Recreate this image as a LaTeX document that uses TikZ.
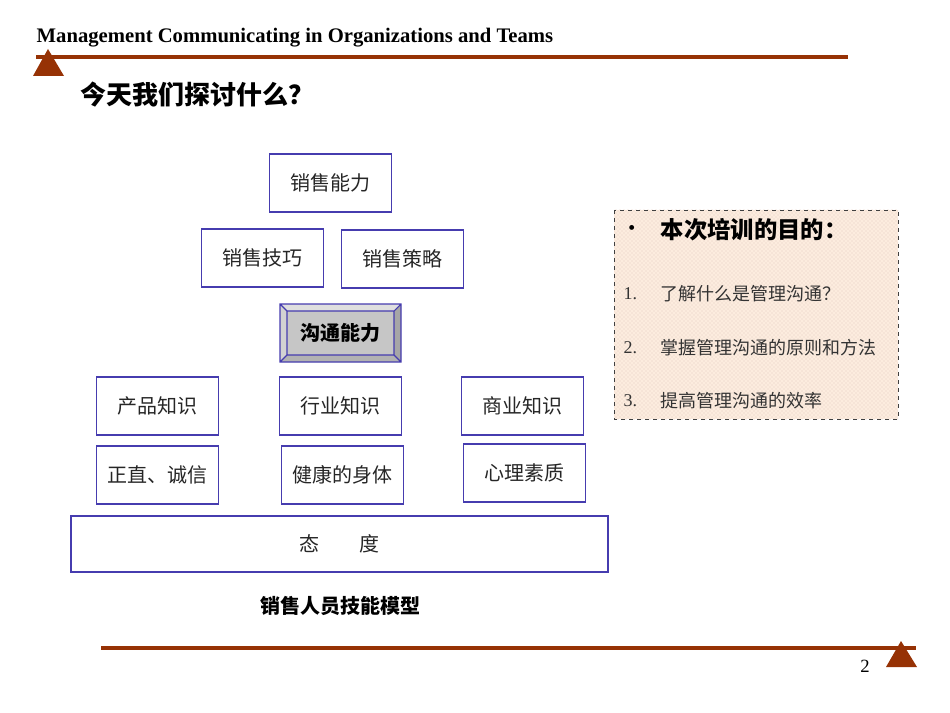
\documentclass[tikz,border=0pt]{standalone}
\usepackage{fontspec}
\setmainfont{Liberation Serif}
\newfontfamily\cjk{Noto Sans CJK SC}
\usetikzlibrary{patterns}
\definecolor{brn}{RGB}{150,50,5}
\definecolor{bbl}{RGB}{70,60,175}
\definecolor{peach}{RGB}{252,236,222}
\begin{document}
\begin{tikzpicture}[x=0.75pt,y=-0.75pt,
  bx/.style={draw=bbl,line width=0.9pt,minimum width=91pt,minimum height=43.5pt,inner sep=0pt,font=\cjk\fontsize{15}{15}\selectfont,text=black!85},
  itm/.style={anchor=west,font=\cjk\fontsize{13.5}{14}\selectfont,text=black!80}]
\useasboundingbox (0,0) rectangle (950,713);
\node[anchor=west,font=\bfseries\fontsize{15.5}{16}\selectfont] (hdr) at (32,38) {Management Communicating in Organizations and Teams};
\draw[brn,line width=3pt] (36,57) -- (848,57);
\fill[brn] (48,49) -- (33,76) -- (64,76) -- cycle;
\node[anchor=west,font=\cjk\bfseries\fontsize{19.5}{20}\selectfont] (ttl) at (76,95) {今天我们探讨什么？};
\node[bx] (a) at (330.5,183) {销售能力};
\node[bx] (b) at (262.5,258) {销售技巧};
\node[bx] (c) at (402.5,259) {销售策略};
% bevel box
\fill[gray!55] (280,304) rectangle (401,362);
\fill[gray!25] (280,304) -- (401,304) -- (394,311) -- (287,311) -- cycle;
\fill[gray!35] (280,304) -- (287,311) -- (287,355) -- (280,362) -- cycle;
\fill[gray!70] (401,304) -- (394,311) -- (394,355) -- (401,362) -- cycle;
\fill[gray!60] (280,362) -- (287,355) -- (394,355) -- (401,362) -- cycle;
\fill[gray!45] (287,311) rectangle (394,355);
\draw[bbl,line width=0.8pt] (280,304) rectangle (401,362) (287,311) rectangle (394,355)
  (280,304)--(287,311) (401,304)--(394,311) (280,362)--(287,355) (401,362)--(394,355);
\node[font=\cjk\bfseries\fontsize{15}{15}\selectfont] (d) at (340.5,333) {沟通能力};
\node[bx] (e) at (157.5,406) {产品知识};
\node[bx] (f) at (340.5,406) {行业知识};
\node[bx] (g) at (522.5,406) {商业知识};
\node[bx] (h) at (157.5,475) {正直、诚信};
\node[bx] (i) at (342.5,475) {健康的身体};
\node[bx] (j) at (524.5,473) {心理素质};
\node[bx,minimum width=402.75pt,minimum height=42pt] (k) at (339.5,544) {态\hspace{2em}度};
\node[font=\cjk\bfseries\fontsize{15}{15}\selectfont] (cap) at (340,606) {销售人员技能模型};
% right box
\fill[peach] (614,210) rectangle (898,419);
\fill[pattern=crosshatch dots,pattern color=brn!25] (614,210) rectangle (898,419);
\draw[black!75,dashed,line width=0.7pt] (614,210) rectangle (898,419);
\node[anchor=west,font=\cjk\bfseries\fontsize{13}{14}\selectfont] (bl) at (619,230) {•};
\node[anchor=west,font=\cjk\bfseries\fontsize{17.5}{18}\selectfont] (rh) at (656,230) {本次培训的目的：};
\node[itm,font=\fontsize{13.5}{14}\selectfont] (n1) at (619,294) {1.};
\node[itm] (t1) at (656,294) {了解什么是管理沟通？};
\node[itm,font=\fontsize{13.5}{14}\selectfont] (n2) at (619,348) {2.};
\node[itm] (t2) at (656,348) {掌握管理沟通的原则和方法};
\node[itm,font=\fontsize{13.5}{14}\selectfont] (n3) at (619,401) {3.};
\node[itm] (t3) at (656,401) {提高管理沟通的效率};
% bottom
\draw[brn,line width=3pt] (101,648) -- (916,648);
\fill[brn] (901,641) -- (886,667) -- (917,667) -- cycle;
\node[font=\fontsize{14}{14}\selectfont] (pg) at (865,666) {2};
\end{tikzpicture}
\end{document}
